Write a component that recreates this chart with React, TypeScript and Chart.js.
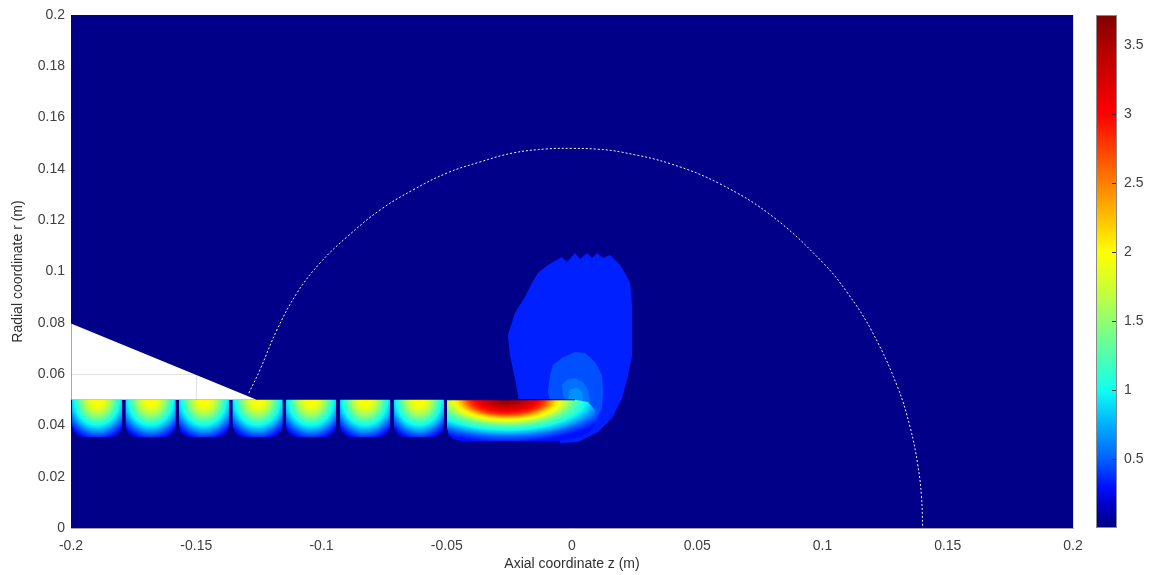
import React, { useEffect, useRef } from 'react';
import { Chart, registerables } from 'chart.js';

Chart.register(...registerables);

// ---------- axes ----------
const zMin = -0.2;
const zMax = 0.2;
const zStep = 0.05;
const rMin = 0;
const rMax = 0.2;
const rStep = 0.02;
const cbMin = 0;
const cbMax = 3.72;
const cbStep = 0.5;
const xTitle = 'Axial coordinate z (m)';
const yTitle = 'Radial coordinate r (m)';

// ---------- colormap (value -> colour) ----------
const cmapValues = [0, 0.17, 0.3, 0.5, 0.75, 1.0, 1.25, 1.5, 1.75, 2.0, 2.25, 2.5, 2.75, 3.0, 3.25, 3.5, 3.72];
const cmapColors = ['#00007f', '#0000c8', '#0010ff', '#0060ff', '#00b0ff', '#10fff0', '#50ffb0', '#90ff70', '#d0ff30', '#ffff00', '#ffc000', '#ff8000', '#ff4000', '#ff0000', '#d80000', '#b00000', '#800000'];

// ---------- field domain (everything except the white cone) ----------
const domainValue = 0.02;
const domainZ = [-0.2, 0.2, 0.2, -0.2, -0.2, -0.1259, -0.2];
const domainR = [0, 0, 0.2, 0.2, 0.0797, 0.05, 0.05];

// ---------- plume contour levels ----------
const levelValues = [0.34, 0.46, 0.55, 0.65];
const levelAZ = [-0.0212, -0.0228, -0.0248, -0.0256, -0.0228, -0.0188, -0.016, -0.0136, -0.0096, -0.004, -0.002, 0.0012, 0.0032, 0.006, 0.008, 0.01, 0.0124, 0.0152, 0.0192, 0.022, 0.0232, 0.024, 0.024, 0.024, 0.0224, 0.02, 0.016, 0.0104, 0.0024, -0.0048, -0.0048];
const levelAR = [0.05, 0.0585, 0.0674, 0.0752, 0.0838, 0.0901, 0.0955, 0.0994, 0.1025, 0.1057, 0.1037, 0.1072, 0.1049, 0.1072, 0.1053, 0.1072, 0.1053, 0.1064, 0.1025, 0.0979, 0.0955, 0.0862, 0.0733, 0.0674, 0.0596, 0.0507, 0.0429, 0.0374, 0.0335, 0.0331, 0.05];
const levelBZ = [-0.0088, -0.0096, -0.0088, -0.0076, -0.004, 0.0012, 0.0052, 0.0092, 0.012, 0.0124, 0.012, 0.0092, 0.0052, -0.0028, -0.0028];
const levelBR = [0.0499, 0.053, 0.0596, 0.0635, 0.0663, 0.0686, 0.0682, 0.0647, 0.0596, 0.053, 0.0468, 0.0413, 0.0382, 0.0374, 0.0499];
const levelCZ = [-0.0028, -0.0036, -0.004, -0.002, 0.0012, 0.0044, 0.0064, 0.0072, 0.0064, 0.0044, 0.0];
const levelCR = [0.0499, 0.0519, 0.0558, 0.0577, 0.0585, 0.0569, 0.0538, 0.0491, 0.0452, 0.0429, 0.0429];
const levelDZ = [-0.0016, -0.0008, 0.002, 0.004, 0.0044, 0.0032, 0.0];
const levelDR = [0.0499, 0.0538, 0.055, 0.053, 0.0499, 0.0468, 0.0468];

// ---------- coil cells ----------
const smallCoilStartZ = [-0.1996, -0.1782, -0.1569, -0.1355, -0.1142, -0.0926, -0.0711];
const smallCoilWidthZ = 0.02;
const coilTopR = 0.05;
const smallCoilBottomR = 0.0355;
const smallCoilSpreadZ = 0.0144;
const smallCoilSpreadR = 0.0158;
const smallCoilProfileD = [0, 0.2, 0.4, 0.55, 0.7, 0.85, 1.0];
const smallCoilProfileV = [2.05, 1.9, 1.5, 1.15, 0.85, 0.5, 0.25];

const bigCoilZ = [-0.0499, 0.0012, 0.0064, 0.0092, 0.01, 0.008, 0.0032, -0.0048, -0.044, -0.0475, -0.0493, -0.0499];
const bigCoilR = [0.05, 0.05, 0.0491, 0.046, 0.0421, 0.0382, 0.0355, 0.0339, 0.0339, 0.0347, 0.0365, 0.039];
const bigCoilCenterZ = -0.026;
const bigCoilSpreadZ = 0.0439;
const bigCoilSpreadR = 0.0164;
const bigCoilProfileD = [0, 0.12, 0.24, 0.34, 0.45, 0.6, 0.75, 0.88, 1.0];
const bigCoilProfileV = [3.7, 3.5, 3.15, 2.8, 2.1, 1.35, 0.9, 0.5, 0.3];

// ---------- dotted boundary arc ----------
const arcZ = [-0.129, -0.1246, -0.1178, -0.1098, -0.1006, -0.0898, -0.0766, -0.0635, -0.0499, -0.0367, -0.0236, -0.01, 0, 0.01, 0.02, 0.04, 0.06, 0.08, 0.1, 0.11, 0.12, 0.13, 0.135, 0.138, 0.1395, 0.14];
const arcR = [0.0526, 0.0616, 0.0772, 0.0916, 0.1033, 0.1135, 0.124, 0.1318, 0.1384, 0.1427, 0.1462, 0.1478, 0.148, 0.1477, 0.1465, 0.1418, 0.1337, 0.1215, 0.1036, 0.0916, 0.0762, 0.0549, 0.0392, 0.0249, 0.0125, 0];

// ---------- helpers ----------
const FONT = "'Liberation Sans', Arial, Helvetica, sans-serif";

function hexRgb(h: string): number[] {
  return [parseInt(h.slice(1, 3), 16), parseInt(h.slice(3, 5), 16), parseInt(h.slice(5, 7), 16)];
}

function cmap(v: number): string {
  const n = cmapValues.length;
  if (v <= cmapValues[0]) return cmapColors[0];
  if (v >= cmapValues[n - 1]) return cmapColors[n - 1];
  for (let i = 0; i < n - 1; i++) {
    if (v >= cmapValues[i] && v <= cmapValues[i + 1]) {
      const t = (v - cmapValues[i]) / (cmapValues[i + 1] - cmapValues[i]);
      const a = hexRgb(cmapColors[i]);
      const b = hexRgb(cmapColors[i + 1]);
      const c = a.map((ai, k) => Math.round(ai + (b[k] - ai) * t));
      return `rgb(${c[0]},${c[1]},${c[2]})`;
    }
  }
  return cmapColors[n - 1];
}

function addProfileStops(g: CanvasGradient, D: number[], V: number[]) {
  for (let i = 0; i < D.length - 1; i++) {
    for (let k = 0; k < 4; k++) {
      const f = k / 4;
      g.addColorStop(D[i] + (D[i + 1] - D[i]) * f, cmap(V[i] + (V[i + 1] - V[i]) * f));
    }
  }
  g.addColorStop(D[D.length - 1], cmap(V[V.length - 1]));
}

function polyPath(ctx: CanvasRenderingContext2D, xs: number[], ys: number[], sx: any, sy: any) {
  ctx.beginPath();
  xs.forEach((z, i) => {
    const px = sx.getPixelForValue(z);
    const py = sy.getPixelForValue(ys[i]);
    if (i === 0) ctx.moveTo(px, py);
    else ctx.lineTo(px, py);
  });
  ctx.closePath();
}

function fillEllipseGradient(ctx: CanvasRenderingContext2D, cx: number, cy: number, rx: number, ry: number, D: number[], V: number[]) {
  ctx.save();
  ctx.translate(cx, cy);
  ctx.scale(rx / ry, 1);
  const g = ctx.createRadialGradient(0, 0, 0, 0, 0, ry);
  addProfileStops(g, D, V);
  ctx.fillStyle = g;
  ctx.fillRect(-2000, -2000, 4000, 4000);
  ctx.restore();
}

const fieldPlugin = {
  id: 'field',
  beforeDatasetsDraw(chart: any) {
    const { ctx, chartArea, scales } = chart;
    const sx = scales.x;
    const sy = scales.y;
    ctx.save();
    ctx.beginPath();
    ctx.rect(chartArea.left, chartArea.top, chartArea.right - chartArea.left, chartArea.bottom - chartArea.top);
    ctx.clip();

    // domain background
    polyPath(ctx, domainZ, domainR, sx, sy);
    ctx.fillStyle = cmap(domainValue);
    ctx.fill();

    // plume levels
    const levels = [
      [levelAZ, levelAR],
      [levelBZ, levelBR],
      [levelCZ, levelCR],
      [levelDZ, levelDR],
    ];
    levels.forEach(([zs, rs], i) => {
      polyPath(ctx, zs, rs, sx, sy);
      ctx.fillStyle = cmap(levelValues[i]);
      ctx.fill();
    });

    // small coils
    const yTop = sy.getPixelForValue(coilTopR);
    const yBot = sy.getPixelForValue(smallCoilBottomR);
    smallCoilStartZ.forEach((z0) => {
      const x0 = sx.getPixelForValue(z0);
      const x1 = sx.getPixelForValue(z0 + smallCoilWidthZ);
      const xc = sx.getPixelForValue(z0 + smallCoilWidthZ / 2);
      const rx = sx.getPixelForValue(z0 + smallCoilWidthZ / 2 + smallCoilSpreadZ) - xc;
      const ry = sy.getPixelForValue(coilTopR - smallCoilSpreadR) - yTop;
      ctx.save();
      ctx.beginPath();
      (ctx as any).roundRect(x0, yTop, x1 - x0, yBot - yTop, [0, 0, 12, 12]);
      ctx.clip();
      fillEllipseGradient(ctx, xc, yTop, rx, ry, smallCoilProfileD, smallCoilProfileV);
      ctx.restore();
    });

    // big coil
    ctx.save();
    polyPath(ctx, bigCoilZ, bigCoilR, sx, sy);
    ctx.clip();
    const bxc = sx.getPixelForValue(bigCoilCenterZ);
    const brx = sx.getPixelForValue(bigCoilCenterZ + bigCoilSpreadZ) - bxc;
    const bry = sy.getPixelForValue(coilTopR - bigCoilSpreadR) - yTop;
    fillEllipseGradient(ctx, bxc, yTop, brx, bry, bigCoilProfileD, bigCoilProfileV);
    ctx.restore();

    // thin edge on top of the large coil
    ctx.beginPath();
    ctx.moveTo(sx.getPixelForValue(bigCoilZ[0]), yTop);
    ctx.lineTo(sx.getPixelForValue(bigCoilZ[1]), yTop);
    ctx.strokeStyle = cmap(domainValue);
    ctx.lineWidth = 1.2;
    ctx.stroke();

    ctx.restore();
  },
  afterDraw(chart: any) {
    const { ctx, chartArea } = chart;
    const cb = chart.scales.cb;
    const top = cb.getPixelForValue(cbMax);
    const bottom = cb.getPixelForValue(cbMin);
    const x0 = chartArea.right + 23;
    const w = 21;
    ctx.save();
    const g = ctx.createLinearGradient(0, bottom, 0, top);
    cmapValues.forEach((v, i) => g.addColorStop((v - cbMin) / (cbMax - cbMin), cmapColors[i]));
    ctx.fillStyle = g;
    ctx.fillRect(x0, top, w, bottom - top);
    ctx.strokeStyle = '#8a8a8a';
    ctx.lineWidth = 1;
    ctx.strokeRect(x0 + 0.5, top + 0.5, w - 1, bottom - top - 1);
    ctx.strokeStyle = '#303030';
    cb.ticks.forEach((t: any) => {
      if (t.value <= cbMin) return;
      const py = Math.round(cb.getPixelForValue(t.value)) + 0.5;
      ctx.beginPath();
      ctx.moveTo(x0 + w - 5, py);
      ctx.lineTo(x0 + w - 1, py);
      ctx.stroke();
    });
    ctx.restore();
  },
};

function fmt(v: any): string {
  return String(Number(Number(v).toFixed(4)));
}

export default function App() {
  const ref = useRef<HTMLCanvasElement>(null);
  useEffect(() => {
    if (!ref.current) return;
    const tickFont = { family: FONT, size: 14 };
    const titleFont = { family: FONT, size: 14 };
    const chart = new Chart(ref.current, {
      type: 'scatter',
      data: {
        datasets: [
          {
            data: arcZ.map((z, i) => ({ x: z, y: arcR[i] })),
            showLine: true,
            borderColor: 'rgba(255,255,255,0.95)',
            borderWidth: 1,
            borderDash: [2, 2],
            pointRadius: 0,
            fill: false,
            tension: 0.4,
          } as any,
        ],
      },
      options: {
        animation: false,
        responsive: false,
        events: [],
        layout: { padding: { top: 15, left: 0, right: 0, bottom: 0 } },
        plugins: { legend: { display: false }, tooltip: { enabled: false } },
        scales: {
          x: {
            type: 'linear',
            min: zMin,
            max: zMax,
            ticks: { stepSize: zStep, autoSkip: false, maxRotation: 0, padding: 10, color: '#404040', font: tickFont, callback: (v: any) => fmt(v) },
            grid: { color: '#e2e2e2', drawTicks: false },
            border: { color: '#a8a8a8' },
            title: { display: true, text: xTitle, color: '#303030', font: titleFont, padding: { top: 0, bottom: 2 } },
            afterFit: (s: any) => { s.height = 47; s.paddingLeft = 0; s.paddingRight = 0; },
          },
          y: {
            type: 'linear',
            min: rMin,
            max: rMax,
            ticks: { stepSize: rStep, autoSkip: false, padding: 6, color: '#404040', font: tickFont, callback: (v: any) => fmt(v) },
            grid: { color: '#e2e2e2', drawTicks: false },
            border: { color: '#a8a8a8' },
            title: { display: true, text: yTitle, color: '#303030', font: titleFont, padding: { top: 10, bottom: 0 } },
            afterFit: (s: any) => { s.width = 71; s.paddingTop = 0; s.paddingBottom = 0; },
          },
          cb: {
            type: 'linear',
            axis: 'y',
            position: 'right',
            min: cbMin,
            max: cbMax,
            ticks: { stepSize: cbStep, includeBounds: false, autoSkip: false, padding: 51, color: '#404040', font: tickFont, callback: (v: any) => (Number(v) <= cbMin ? '' : fmt(v)) },
            grid: { display: false, drawTicks: false },
            border: { display: false },
            afterFit: (s: any) => { s.width = 78; s.paddingTop = 0; s.paddingBottom = 0; },
          } as any,
        },
      } as any,
      plugins: [fieldPlugin],
    });
    return () => chart.destroy();
  }, []);
  return (
    <div style={{ position: 'fixed', left: 0, top: 0, width: 1151, height: 575, background: '#fff' }}>
      <canvas ref={ref} width={1151} height={575} style={{ display: 'block' }} />
    </div>
  );
}
